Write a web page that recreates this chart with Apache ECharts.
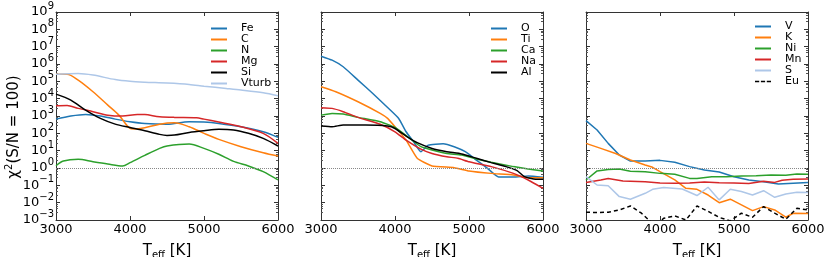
<!DOCTYPE html>
<html><head><meta charset="utf-8">
<script src="https://cdn.jsdelivr.net/npm/echarts@6/dist/echarts.min.js"></script>
<style>html,body{margin:0;padding:0;background:#fff}#c{width:830px;height:257px}</style>
</head><body><div id="c"></div>
<script>
// Values as [Teff (K), log10 chi^2]
const xTicks = [3000, 4000, 5000, 6000];
const yEdgeExponents = [-3, 9];
// Panel 1
const fe = [[3000,2.82],[3200,3.0],[3400,3.09],[3600,3.0],[3800,2.82],[4000,2.67],[4200,2.57],[4500,2.53],[4800,2.67],[5000,2.65],[5200,2.57],[5500,2.38],[5800,2.09],[6000,1.77]];
const c = [[3000,5.41],[3150,5.41],[3300,5.07],[3500,4.4],[3700,3.63],[3850,3.05],[4000,2.28],[4050,2.25],[4200,2.32],[4400,2.53],[4600,2.61],[4800,2.38],[5000,2.0],[5200,1.65],[5500,1.23],[5800,0.88],[6000,0.69]];
const n = [[3000,0.13],[3100,0.4],[3300,0.5],[3500,0.36],[3700,0.23],[3900,0.12],[4000,0.31],[4200,0.73],[4400,1.13],[4500,1.27],[4800,1.38],[5000,1.13],[5200,0.79],[5400,0.38],[5600,0.12],[5800,-0.21],[6000,-0.69]];
const mg = [[3000,3.59],[3150,3.61],[3300,3.44],[3500,3.25],[3700,3.05],[3900,3.0],[4100,3.09],[4200,3.08],[4400,2.96],[4600,2.92],[4900,2.9],[5000,2.82],[5200,2.65],[5500,2.38],[5800,2.0],[6000,1.42]];
const si = [[3000,4.26],[3200,3.92],[3400,3.34],[3600,2.86],[3800,2.53],[4000,2.34],[4200,2.15],[4400,1.94],[4500,1.88],[4600,1.9],[4800,2.05],[5000,2.15],[5200,2.23],[5400,2.19],[5600,2.0],[5800,1.71],[6000,1.27]];
const vturb = [[3000,5.41],[3300,5.45],[3500,5.36],[3800,5.1],[4000,5.0],[4200,4.95],[4500,4.9],[4800,4.82],[5000,4.72],[5300,4.59],[5500,4.5],[5800,4.34],[6000,4.17]];
// Panel 2
const o = [[3000,6.45],[3150,6.22],[3300,5.84],[3500,5.07],[3700,4.3],[3900,3.49],[4050,2.86],[4150,2.09],[4250,1.52],[4350,0.94],[4450,1.32],[4650,1.4],[4800,1.23],[4950,0.94],[5100,0.46],[5250,-0.02],[5400,-0.52],[5600,-0.52],[5800,-0.46],[6000,-0.54]];
const ti = [[3000,4.69],[3200,4.4],[3500,3.82],[3800,3.15],[3900,2.86],[4000,2.38],[4150,1.61],[4300,0.56],[4500,0.12],[4800,0.02],[5000,-0.17],[5300,-0.31],[5600,-0.4],[5800,-0.56],[6000,-0.56]];
const ca = [[3000,3.05],[3150,3.15],[3300,3.11],[3500,2.92],[3800,2.67],[4000,2.34],[4200,1.71],[4350,1.23],[4500,1.04],[4700,0.84],[4900,0.75],[5100,0.52],[5300,0.33],[5600,0.08],[5800,-0.06],[6000,-0.17]];
const na = [[3000,3.48],[3150,3.44],[3300,3.25],[3500,2.92],[3800,2.52],[4000,2.09],[4150,1.61],[4350,1.09],[4500,0.84],[4700,0.65],[4850,0.56],[5000,0.36],[5300,0.08],[5600,-0.31],[5800,-0.69],[6000,-1.17]];
const al = [[3000,2.42],[3150,2.38],[3300,2.48],[3600,2.48],[3900,2.42],[4000,2.28],[4150,1.84],[4300,1.46],[4500,1.13],[4700,0.94],[4900,0.81],[5100,0.56],[5300,0.31],[5500,0.08],[5650,-0.15],[5750,-0.5],[5900,-0.65],[6000,-0.65]];
// Panel 3
const v = [[3000,2.73],[3150,2.19],[3300,1.42],[3450,0.75],[3600,0.4],[3800,0.4],[4000,0.44],[4200,0.33],[4400,0.08],[4600,-0.12],[4800,-0.23],[5000,-0.5],[5200,-0.69],[5400,-0.79],[5600,-0.92],[5800,-0.88],[6000,-0.84]];
const k = [[3000,1.42],[3200,1.13],[3400,0.84],[3600,0.46],[3800,0.17],[3900,0.04],[4000,-0.21],[4200,-0.69],[4350,-1.17],[4500,-1.23],[4650,-1.56],[4800,-2.0],[4950,-1.8],[5100,-2.13],[5250,-2.46],[5400,-2.23],[5550,-2.42],[5700,-2.84],[5800,-2.61],[6000,-2.63]];
const ni = [[3000,-0.69],[3150,-0.17],[3300,-0.08],[3450,-0.06],[3600,-0.19],[3800,-0.21],[4000,-0.31],[4200,-0.36],[4400,-0.6],[4500,-0.6],[4700,-0.5],[4900,-0.5],[5100,-0.46],[5300,-0.45],[5500,-0.4],[5700,-0.42],[5850,-0.35],[6000,-0.36]];
const mn = [[3000,-0.83],[3200,-0.69],[3300,-0.61],[3500,-0.75],[3800,-0.79],[4000,-0.86],[4200,-0.88],[4400,-0.86],[4600,-0.81],[4800,-0.85],[5000,-0.86],[5200,-0.9],[5400,-0.77],[5550,-0.83],[5650,-0.71],[5800,-0.65],[6000,-0.63]];
const s = [[3000,-0.5],[3150,-0.98],[3300,-1.02],[3450,-1.65],[3600,-1.8],[3800,-1.46],[3900,-1.23],[4050,-1.13],[4300,-1.21],[4500,-1.59],[4650,-1.11],[4800,-1.84],[4950,-1.23],[5100,-1.36],[5250,-1.56],[5400,-1.31],[5550,-1.69],[5700,-1.5],[5850,-1.4],[6000,-1.42]];
const eu = [[3000,-2.55],[3150,-2.57],[3300,-2.55],[3450,-2.42],[3600,-2.19],[3750,-2.61],[3900,-3.2],[4000,-3.1],[4050,-2.9],[4200,-2.76],[4350,-3.0],[4500,-2.19],[4650,-2.5],[4800,-2.85],[4950,-3.05],[5100,-2.61],[5250,-2.84],[5400,-2.23],[5550,-2.6],[5700,-2.96],[5850,-2.32],[6000,-2.42]];

const toVal = d => d.map(p => [p[0], Math.pow(10, p[1])]);
const FONT = 'DejaVu Sans';
const C = {blue:'#1f77b4', orange:'#ff7f0e', green:'#2ca02c', red:'#d62728', black:'#000000', light:'#aec7e8'};
const lefts = [56, 321, 586];
const GW = 222, GT = 12, GH = 208;

const grid = lefts.map(l => ({left:l, top:GT, width:GW, height:GH, containLabel:false, outerBoundsMode:'none'}));
const xAxis = [], yAxis = [];
const spine = {show:true, lineStyle:{color:'#333', width:1}};
const expOf = val => Math.round(Math.log10(val));
const powLabel = e => '{b|10}{s|' + (e < 0 ? '\u2212' + (-e) : e) + '}';
const yRich = {
  b:{fontSize:13, fontFamily:FONT, color:'#000', lineHeight:12, verticalAlign:'middle'},
  s:{fontSize:10, fontFamily:FONT, color:'#000', lineHeight:2, padding:[0,0,11,0], verticalAlign:'middle'}};
lefts.forEach((l, i) => {
  xAxis.push({type:'value', gridIndex:i, min:3000, max:6000, interval:1000, position:'bottom',
    axisLine:spine, axisTick:{show:true, inside:true, length:4, lineStyle:{color:'#333'}},
    splitLine:{show:false},
    axisLabel:{show:true, margin:3, fontSize:13, fontFamily:FONT, color:'#000', hideOverlap:false, showMinLabel:true, showMaxLabel:true, formatter:val => String(val)},
    name:'{t|T}{s|eff}{t| [K]}', nameLocation:'middle', nameGap:21,
    nameTextStyle:{fontFamily:FONT, color:'#000', rich:{
      t:{fontSize:15, fontFamily:FONT, color:'#000', lineHeight:16, verticalAlign:'middle'},
      s:{fontSize:10, fontFamily:FONT, color:'#000', lineHeight:10, padding:[10,0,0,0], verticalAlign:'middle'}}}
  });
  xAxis.push({type:'value', gridIndex:i, min:3000, max:6000, interval:1000, position:'top',
    axisLine:spine, axisTick:{show:true, inside:true, length:4, lineStyle:{color:'#333'}},
    splitLine:{show:false}, axisLabel:{show:false}});
  const yBase = {type:'log', logBase:10, gridIndex:i, min:0.001, max:1e9, interval:1,
    axisLine:spine, axisTick:{show:true, inside:true, length:4, lineStyle:{color:'#333'}},
    minorTick:{show:true, splitNumber:5, length:2, lineStyle:{color:'#555'}},
    splitLine:{show:false}, minorSplitLine:{show:false}};
  yAxis.push(Object.assign({}, yBase, {position:'left',
    axisLabel:{show:i===0, margin:2, hideOverlap:false, showMinLabel:false, showMaxLabel:false,
      formatter:val => powLabel(expOf(val)), rich:yRich}}));
  yAxis.push(Object.assign({}, yBase, {position:'right', axisLabel:{show:false}}));
});
// extra label-only axis on panel 1 for the end labels (10^-3 and 10^9)
yAxis.push({type:'log', logBase:10, gridIndex:0, min:0.001, max:1e9, interval:1, position:'left',
  axisLine:{show:false}, axisTick:{show:false}, minorTick:{show:false}, splitLine:{show:false},
  axisLabel:{show:true, margin:2, hideOverlap:false, showMinLabel:true, showMaxLabel:true,
    formatter:val => yEdgeExponents.includes(expOf(val)) ? powLabel(expOf(val)) : '', rich:yRich}});

const series = [];
function add(name, data, color, panel, extra) {
  series.push(Object.assign({
    name, type:'line', data:toVal(data), xAxisIndex:panel*2, yAxisIndex:panel*2,
    symbol:'none', showSymbol:false, clip:true,
    smooth: panel === 0 ? 0.3 : (panel === 1 ? 0.15 : false),
    lineStyle:{color, width:1.5}, itemStyle:{color}, z:3
  }, extra || {}));
}
const unity = {silent:true, symbol:['none','none'], label:{show:false},
  lineStyle:{type:'dotted', color:'#888', width:1}, data:[{yAxis:1}]};
add('Fe', fe, C.blue, 0, {markLine:unity});
add('C', c, C.orange, 0);
add('N', n, C.green, 0);
add('Mg', mg, C.red, 0);
add('Si', si, C.black, 0);
add('Vturb', vturb, C.light, 0);
add('O', o, C.blue, 1, {markLine:unity});
add('Ti', ti, C.orange, 1);
add('Ca', ca, C.green, 1);
add('Na', na, C.red, 1);
add('Al', al, C.black, 1);
add('V', v, C.blue, 2, {markLine:unity});
add('K', k, C.orange, 2);
add('Ni', ni, C.green, 2);
add('Mn', mn, C.red, 2);
add('S', s, C.light, 2);
add('Eu', eu, C.black, 2, {lineStyle:{color:C.black, width:1.5, type:[4,3]}});

const DASH = 'path://M0 0H5V2H0Z M7 0H12V2H7Z M14 0H19V2H14Z';
const legBase = {orient:'vertical', itemWidth:16, itemHeight:2, itemGap:0, selectedMode:false, icon:'rect',
  textStyle:{fontSize:11, fontFamily:FONT, color:'#000', lineHeight:10, padding:[0,0,0,9]}};
const legend = [
  Object.assign({}, legBase, {left:206, top:18, data:['Fe','C','N','Mg','Si','Vturb']}),
  Object.assign({}, legBase, {left:486, top:18, data:['O','Ti','Ca','Na','Al']}),
  Object.assign({}, legBase, {left:750, top:16, data:['V','K','Ni','Mn','S',{name:'Eu', icon:DASH}]})
];

const chart = echarts.init(document.getElementById('c'), null, {renderer:'canvas'});
chart.setOption({
  animation:false, backgroundColor:'#fff',
  grid, xAxis, yAxis, series, legend,
  graphic:[{type:'text', x:14, y:127, rotation:Math.PI/2, style:{
    text:'{a|\u03c7}{s|2}{a|(S/N = 100)}', align:'center', verticalAlign:'middle',
    fontFamily:FONT, fontSize:15, fill:'#000',
    rich:{a:{fontSize:15, fontFamily:FONT, fill:'#000', lineHeight:16, verticalAlign:'middle'},
          s:{fontSize:10, fontFamily:FONT, fill:'#000', lineHeight:10, padding:[0,0,10,0], verticalAlign:'middle'}}}}]
});
</script></body></html>
